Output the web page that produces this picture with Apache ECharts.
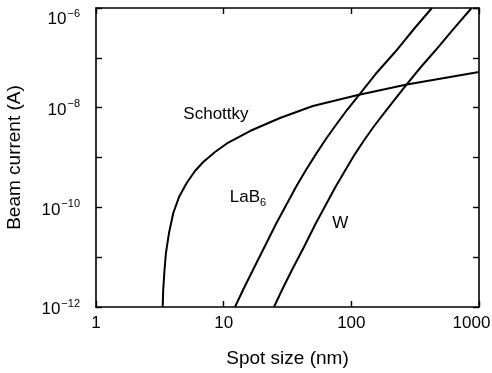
<!DOCTYPE html>
<html><head><meta charset="utf-8">
<script src="https://cdn.jsdelivr.net/npm/echarts@6/dist/echarts.min.js"></script>
<style>html,body{margin:0;padding:0;background:#fff}#c{width:492px;height:373px}</style>
</head><body><div id="c"></div>
<script>
const schottkyX = [3.33, 3.36, 3.44, 3.53, 3.73, 4.03, 4.47, 5.13, 5.96, 6.92, 8.55, 10.6, 16.07, 27.6, 50.0, 112.6, 272, 1000];
const schottkyY = [1e-12, 2.19e-12, 5.52e-12, 1.21e-11, 3.05e-11, 7.7e-11, 1.61e-10, 3.08e-10, 5.36e-10, 8.12e-10, 1.29e-9, 1.91e-9, 3.40e-9, 6.21e-9, 1.08e-8, 1.79e-8, 2.92e-8, 5.2e-8];
const lab6X = [12.26, 14.42, 16.96, 20.87, 25.68, 30.75, 36.83, 44.1, 52.8, 63.25, 75.7, 92.4, 114.7, 158.7, 223.6, 309.2, 427.6];
const lab6Y = [1e-12, 2.40e-12, 5.52e-12, 1.60e-11, 4.62e-11, 1.09e-10, 2.56e-10, 5.61e-10, 1.17e-9, 2.35e-9, 4.49e-9, 8.97e-9, 1.79e-8, 5.08e-8, 1.37e-7, 3.79e-7, 1e-6];
const wX = [24.77, 29.13, 34.26, 42.55, 52.36, 62.7, 75.08, 89.9, 106.7, 127.8, 153, 200.6, 272.4, 350.8, 451.6, 624.8, 875];
const wY = [1e-12, 2.40e-12, 5.52e-12, 1.60e-11, 4.62e-11, 1.09e-10, 2.56e-10, 5.61e-10, 1.17e-9, 2.35e-9, 4.49e-9, 1.10e-8, 2.98e-8, 6.55e-8, 1.37e-7, 3.70e-7, 1e-6];
const xTicks = [1, 10, 100, 1000];
const yMin = 1e-12, yMax = 1e-6;
const annotations = [
  {text: 'Schottky', x: 8.7, y: 7.5e-9},
  {text: 'LaB6', x: 15.5, y: 1.5e-10},
  {text: 'W', x: 82, y: 4.8e-11}
];
const FONT = '"Liberation Sans", Arial, Helvetica, sans-serif';
const zip = (a, b) => a.map((v, i) => [v, b[i]]);
const chart = echarts.init(document.getElementById('c'), null, {renderer: 'canvas'});
const axisLine = {show: true, lineStyle: {color: '#000', width: 1.6}};
const tick = {show: true, inside: true, length: 6, lineStyle: {color: '#000', width: 1.4}};
const lineStyle = {color: '#000', width: 2, join: 'round'};
function yFmt(v) {
  const e = Math.round(Math.log10(v));
  if (e % 2 !== 0) return '';
  const sup = '\u2212' + Math.abs(e);
  if (v >= yMax * 0.999) return '{e| }\n{b|10}{s|' + sup + '}';
  return '{b|10}{s|' + sup + '}';
}
function xFmt(v) {
  const r = Math.round(v);
  if (r === xTicks[xTicks.length - 1]) return '{r|' + r + '}';
  return String(r);
}
chart.setOption({
  animation: false,
  backgroundColor: '#fff',
  textStyle: {fontFamily: FONT},
  grid: {left: 96, right: 13, top: 8, bottom: 66, outerBoundsMode: 'none', containLabel: false},
  xAxis: [{
    type: 'log', logBase: 10, min: xTicks[0], max: xTicks[xTicks.length - 1],
    name: 'Spot size (nm)', nameLocation: 'middle', nameGap: 42,
    nameTextStyle: {fontSize: 19, color: '#000', fontFamily: FONT},
    axisLine, axisTick: tick, splitLine: {show: false},
    axisLabel: {color: '#000', fontSize: 17, margin: 8, fontFamily: FONT, formatter: xFmt,
      showMaxLabel: true, showMinLabel: true, hideOverlap: false,
      rich: {r: {fontSize: 17, fontFamily: FONT, color: '#000', padding: [0, 15, 0, 0]}}}
  }, {
    type: 'log', logBase: 10, min: xTicks[0], max: xTicks[xTicks.length - 1], position: 'top',
    axisLine, axisTick: tick, splitLine: {show: false}, axisLabel: {show: false}
  }],
  yAxis: [{
    type: 'log', logBase: 10, min: yMin, max: yMax, interval: 1, splitNumber: 6,
    name: 'Beam current (A)', nameLocation: 'middle', nameGap: 72,
    nameTextStyle: {fontSize: 19, color: '#000', fontFamily: FONT},
    axisLine, axisTick: tick, splitLine: {show: false},
    axisLabel: {
      color: '#000', margin: 16, fontFamily: FONT, formatter: yFmt, hideOverlap: false,
      rich: {
        e: {fontSize: 10, lineHeight: 18},
        b: {fontSize: 17, fontFamily: FONT, color: '#000', verticalAlign: 'bottom', lineHeight: 22},
        s: {fontSize: 11, fontFamily: FONT, color: '#000', verticalAlign: 'bottom', padding: [0, 0, 9, 1], lineHeight: 13}
      }
    }
  }, {
    type: 'log', logBase: 10, min: yMin, max: yMax, interval: 1, splitNumber: 6, position: 'right',
    axisLine, axisTick: tick, splitLine: {show: false}, axisLabel: {show: false}
  }],
  series: [
    {type: 'line', name: 'Schottky', data: zip(schottkyX, schottkyY), showSymbol: false, smooth: false, lineStyle, clip: true},
    {type: 'line', name: 'LaB6', data: zip(lab6X, lab6Y), showSymbol: false, smooth: false, lineStyle, clip: true},
    {type: 'line', name: 'W', data: zip(wX, wY), showSymbol: false, smooth: false, lineStyle, clip: true}
  ]
});
const graphics = annotations.map(a => {
  const p = chart.convertToPixel({xAxisIndex: 0, yAxisIndex: 0}, [a.x, a.y]);
  const isLab = a.text === 'LaB6';
  return {
    type: 'text', x: p[0], y: p[1],
    style: {
      text: isLab ? '{m|LaB}{sub|6}' : a.text,
      fontSize: 17, fontFamily: FONT, fill: '#000', align: 'center', verticalAlign: 'middle',
      rich: isLab ? {
        m: {fontSize: 17, fontFamily: FONT, color: '#000', verticalAlign: 'top', lineHeight: 20},
        sub: {fontSize: 11, fontFamily: FONT, color: '#000', verticalAlign: 'top', padding: [9, 0, 0, 0], lineHeight: 20}
      } : undefined
    }
  };
});
chart.setOption({graphic: graphics});
</script></body></html>
